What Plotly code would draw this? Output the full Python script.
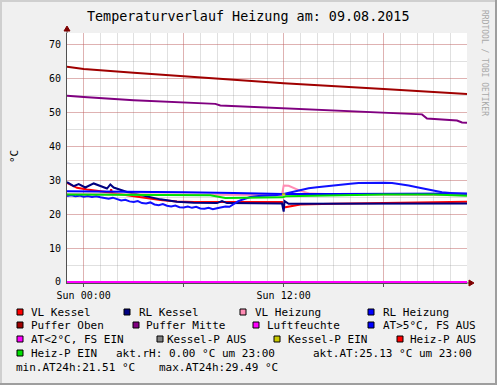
import plotly.graph_objects as go

# ---------------- data (hours relative to Sun 00:00) ----------------
hours_vl_kessel = [-1, -0.4, 0.2, 1.0, 1.6, 1.65, 1.7, 2.6, 3.6, 4.6, 5.6, 6.6, 8, 10, 11.9, 12.0, 13, 15, 18, 20, 23]
vl_kessel = [29.3, 27.8, 27.3, 26.9, 26.4, 27.4, 26.3, 25.6, 24.8, 24.2, 23.8, 23.6, 23.6, 23.5, 23.6, 22.0, 22.9, 23.1, 23.3, 23.6, 23.7]

hours_rl_kessel = [-1, -0.6, -0.3, 0.1, 0.6, 1.0, 1.4, 1.6, 1.8, 2.6, 3.6, 4.6, 5.6, 6.6, 8.0, 8.3, 8.6, 10, 11.9, 12.0, 12.05, 12.3, 14, 18, 23]
rl_kessel = [29.5, 28.3, 28.9, 27.9, 29.1, 28.3, 27.6, 28.8, 27.9, 26.6, 25.4, 24.4, 23.7, 23.4, 23.3, 23.9, 23.3, 23.2, 23.2, 20.8, 23.9, 23.1, 23.1, 23.1, 23.2]

hours_vl_heizung = [-1, 3, 6, 9, 11.9, 12.0, 12.3, 13.0, 13.6, 15, 18, 23]
vl_heizung = [25.9, 25.8, 25.7, 25.6, 25.7, 28.5, 28.4, 26.9, 26.1, 25.9, 25.8, 25.6]

hours_rl_heizung = [-1, 3, 6, 9, 12, 15, 18, 21, 23]
rl_heizung = [26.8, 26.7, 26.5, 26.3, 26.0, 26.0, 26.1, 26.1, 26.1]

hours_puffer_oben = [-1, 0, 3, 6, 10, 12, 18, 23]
puffer_oben = [63.6, 62.9, 61.8, 60.7, 59.3, 58.7, 57.0, 55.5]

hours_puffer_mitte = [-1, 0, 3, 6, 7.9, 8.2, 12, 18, 20.3, 20.6, 22.4, 22.7, 23]
puffer_mitte = [55.0, 54.6, 53.7, 52.9, 52.6, 52.1, 51.3, 50.1, 49.5, 48.3, 47.7, 47.1, 47.0]

hours_luftfeuchte = [-1, 23]
luftfeuchte = [0.0, 0.0]

hours_at = [-1, -0.75, -0.5, -0.25, 0, 0.25, 0.5, 0.75, 1.0, 1.25, 1.5, 1.75, 2.0, 2.25, 2.5, 2.75,
            3.0, 3.25, 3.5, 3.75, 4.0, 4.25, 4.5, 4.75, 5.0, 5.25, 5.5, 5.75, 6.0, 6.25, 6.5, 6.75,
            7.0, 7.25, 7.5, 7.75, 8.0, 8.25, 8.5, 8.75, 9.0, 9.25, 9.5, 9.75, 10.0, 10.5, 11.0, 11.5,
            12.0, 12.5, 13.0, 13.5, 14.0, 14.5, 15.0, 15.5, 16.0, 16.5, 17.0, 17.5, 18.0, 18.5, 19.0,
            19.5, 20.0, 20.5, 21.0, 21.5, 22.0, 22.5, 23.0]
at_aussen = [25.4, 25.6, 25.3, 25.5, 25.2, 25.4, 25.1, 25.3, 25.0, 24.8, 24.6, 24.9, 24.4, 24.1, 24.3, 23.8,
             23.6, 23.9, 23.3, 23.2, 23.5, 22.9, 22.7, 23.0, 22.5, 22.3, 22.6, 22.1, 22.0, 22.3, 21.9, 22.2,
             21.7, 21.6, 21.9, 21.5, 21.8, 22.0, 22.3, 22.2, 23.0, 23.8, 24.3, 24.7, 25.1, 25.4, 25.5, 25.6,
             26.0, 26.6, 27.2, 27.7, 28.0, 28.3, 28.6, 28.8, 29.0, 29.2, 29.3, 29.4, 29.3, 29.2, 28.9,
             28.5, 28.0, 27.5, 26.9, 26.5, 26.3, 26.1, 26.0]

hours_heiz_p_ein = [-1, 2, 5, 7.6, 8.5, 10, 11.95, 12.1, 15, 18, 21, 23]
heiz_p_ein = [25.8, 25.8, 25.7, 25.6, 24.8, 24.9, 25.0, 25.3, 25.6, 25.8, 25.8, 25.5]

hours_kessel_p_ein = [11.9, 12.1]
kessel_p_ein = [25.9, 25.9]

x_tick_vals = [0, 6, 12, 18]
x_tick_text = ["Sun 00:00", "", "Sun 12:00", ""]
y_tick_vals = [0, 10, 20, 30, 40, 50, 60, 70]

legend_labels = [
    ["VL Kessel", "RL Kessel", "VL Heizung", "RL Heizung"],
    ["Puffer Oben", "Puffer Mitte", "Luftfeuchte", "AT>5°C, FS AUS"],
    ["AT<2°C, FS EIN", "Kessel-P AUS", "Kessel-P EIN", "Heiz-P AUS"],
    ["Heiz-P EIN"],
]
legend_colors = [
    ["#FF0000", "#000080", "#FF8CB4", "#0000FF"],
    ["#A00000", "#800080", "#FF00FF", "#0000FF"],
    ["#FF00FF", "#808080", "#C8C800", "#FF0000"],
    ["#00E000"],
]
info_row4 = ["akt.rH: 0.00 °C um 23:00", "akt.AT:25.13 °C um 23:00"]
info_row5 = ["min.AT24h:21.51 °C", "max.AT24h:29.49 °C"]
title_text = "Temperaturverlauf Heizung am: 09.08.2015"

# ---------------- layout geometry (pixels) ----------------
W, H = 497, 385
PL, PR, PT, PB = 67, 467, 33, 283


def fx(px):
    return (px - PL) / (PR - PL)


def fy(py):
    return (PB - py) / (PB - PT)


MONO = "DejaVu Sans Mono"

fig = go.Figure()

series = [
    (hours_vl_kessel, vl_kessel, "#FF0000"),
    (hours_rl_kessel, rl_kessel, "#000080"),
    (hours_vl_heizung, vl_heizung, "#FF8CB4"),
    (hours_rl_heizung, rl_heizung, "#0000FF"),
    (hours_puffer_oben, puffer_oben, "#A00000"),
    (hours_puffer_mitte, puffer_mitte, "#800080"),
    (hours_luftfeuchte, luftfeuchte, "#FF00FF"),
    (hours_at, at_aussen, "#1010FF"),
    (hours_kessel_p_ein, kessel_p_ein, "#C8C800"),
    (hours_heiz_p_ein, heiz_p_ein, "#00E000"),
]
for xs, ys, col in series:
    fig.add_trace(go.Scatter(x=xs, y=ys, mode="lines", line=dict(color=col, width=2),
                             showlegend=False, hoverinfo="skip"))

ymax = (PB - PT) / 3.4
MAJOR_GRID = "rgba(222,80,80,0.32)"
MINOR_GRID = "rgba(143,143,143,0.28)"
fig.update_layout(
    width=W, height=H, autosize=False,
    margin=dict(l=PL, r=W - PR, t=PT, b=H - PB, pad=0),
    paper_bgcolor="#F0F0F0", plot_bgcolor="#FFFFFF",
    showlegend=False, hovermode=False,
    xaxis=dict(range=[-1, 23], tickmode="array", tickvals=x_tick_vals, ticktext=x_tick_text,
               showgrid=True, gridcolor=MAJOR_GRID, gridwidth=1,
               minor=dict(dtick=1, tick0=0, showgrid=True, gridcolor=MINOR_GRID, gridwidth=1),
               zeroline=False, showline=True, linecolor="#505050", linewidth=1,
               ticks="outside", ticklen=3, tickcolor="#505050", fixedrange=True,
               tickfont=dict(family=MONO, size=10, color="#000000"), layer="below traces"),
    yaxis=dict(range=[-0.3, ymax], tickmode="array", tickvals=y_tick_vals,
               showgrid=True, gridcolor=MAJOR_GRID, gridwidth=1,
               minor=dict(dtick=5, tick0=0, showgrid=True, gridcolor=MINOR_GRID, gridwidth=1),
               zeroline=False, showline=True, linecolor="#505050", linewidth=1,
               ticks="outside", ticklen=3, tickcolor="rgba(0,0,0,0)", fixedrange=True,
               tickfont=dict(family=MONO, size=10, color="#000000"), layer="below traces"),
)

shapes = []
# 3D frame
shapes.append(dict(type="rect", xref="paper", yref="paper", x0=fx(0), x1=fx(W), y0=fy(0), y1=fy(2),
                   fillcolor="#CFCFCF", line=dict(width=0), layer="above"))
shapes.append(dict(type="rect", xref="paper", yref="paper", x0=fx(0), x1=fx(2), y0=fy(0), y1=fy(H),
                   fillcolor="#CFCFCF", line=dict(width=0), layer="above"))
shapes.append(dict(type="rect", xref="paper", yref="paper", x0=fx(0), x1=fx(W), y0=fy(H - 2), y1=fy(H),
                   fillcolor="#9E9E9E", line=dict(width=0), layer="above"))
shapes.append(dict(type="rect", xref="paper", yref="paper", x0=fx(W - 2), x1=fx(W), y0=fy(0), y1=fy(H),
                   fillcolor="#9E9E9E", line=dict(width=0), layer="above"))
# axis extensions + arrows
shapes.append(dict(type="line", xref="paper", yref="paper", x0=fx(PL), x1=fx(PL), y0=fy(PT), y1=fy(30),
                   line=dict(color="#505050", width=1), layer="above"))
shapes.append(dict(type="line", xref="paper", yref="paper", x0=fx(PR), x1=fx(470), y0=fy(PB), y1=fy(PB),
                   line=dict(color="#505050", width=1), layer="above"))
shapes.append(dict(type="path", xref="paper", yref="paper",
                   path=f"M {fx(PL-3)} {fy(31)} L {fx(PL+3)} {fy(31)} L {fx(PL)} {fy(26)} Z",
                   fillcolor="#7F0000", line=dict(color="#7F0000", width=1), layer="above"))
shapes.append(dict(type="path", xref="paper", yref="paper",
                   path=f"M {fx(469)} {fy(PB-3)} L {fx(469)} {fy(PB+3)} L {fx(474)} {fy(PB)} Z",
                   fillcolor="#7F0000", line=dict(color="#7F0000", width=1), layer="above"))

annotations = []


def text_at(txt, px, py, size=11, color="#000000", xanchor="left", angle=0):
    annotations.append(dict(text=txt, xref="paper", yref="paper", x=fx(px), y=fy(py),
                            xanchor=xanchor, yanchor="middle", showarrow=False, textangle=angle,
                            font=dict(family=MONO, size=size, color=color), borderpad=0))


text_at(title_text, 248, 17, size=13.4, xanchor="center")
text_at("°C", 14, 157, size=11, xanchor="center", angle=-90)
text_at("RRDTOOL / TOBI OETIKER", 485, 63, size=8, color="#A8A8A8", xanchor="center", angle=90)

legend_sq_x = [[17, 124, 240, 368], [17, 133, 253, 368], [17, 157, 274, 397], [17]]
legend_tx_x = [[30, 138, 254, 382], [30, 145, 266, 382], [30, 166, 287, 409], [30]]
row_y = [312, 325, 339, 353, 367]
for r, labels in enumerate(legend_labels):
    for c, lab in enumerate(labels):
        sx = legend_sq_x[r][c]
        yy = row_y[r]
        shapes.append(dict(type="rect", xref="paper", yref="paper", x0=fx(sx), x1=fx(sx + 6),
                           y0=fy(yy - 3), y1=fy(yy + 3), fillcolor=legend_colors[r][c],
                           line=dict(color="#000000", width=1), layer="above"))
        text_at(lab, legend_tx_x[r][c], yy)

text_at(info_row4[0], 115, row_y[3])
text_at(info_row4[1], 312, row_y[3])
text_at(info_row5[0], 15, row_y[4])
text_at(info_row5[1], 158, row_y[4])

fig.update_layout(shapes=shapes, annotations=annotations)
fig.write_html("out.html", config={"displayModeBar": False, "staticPlot": True},
               post_script="document.body.style.margin='0';document.body.style.overflow='hidden';")
